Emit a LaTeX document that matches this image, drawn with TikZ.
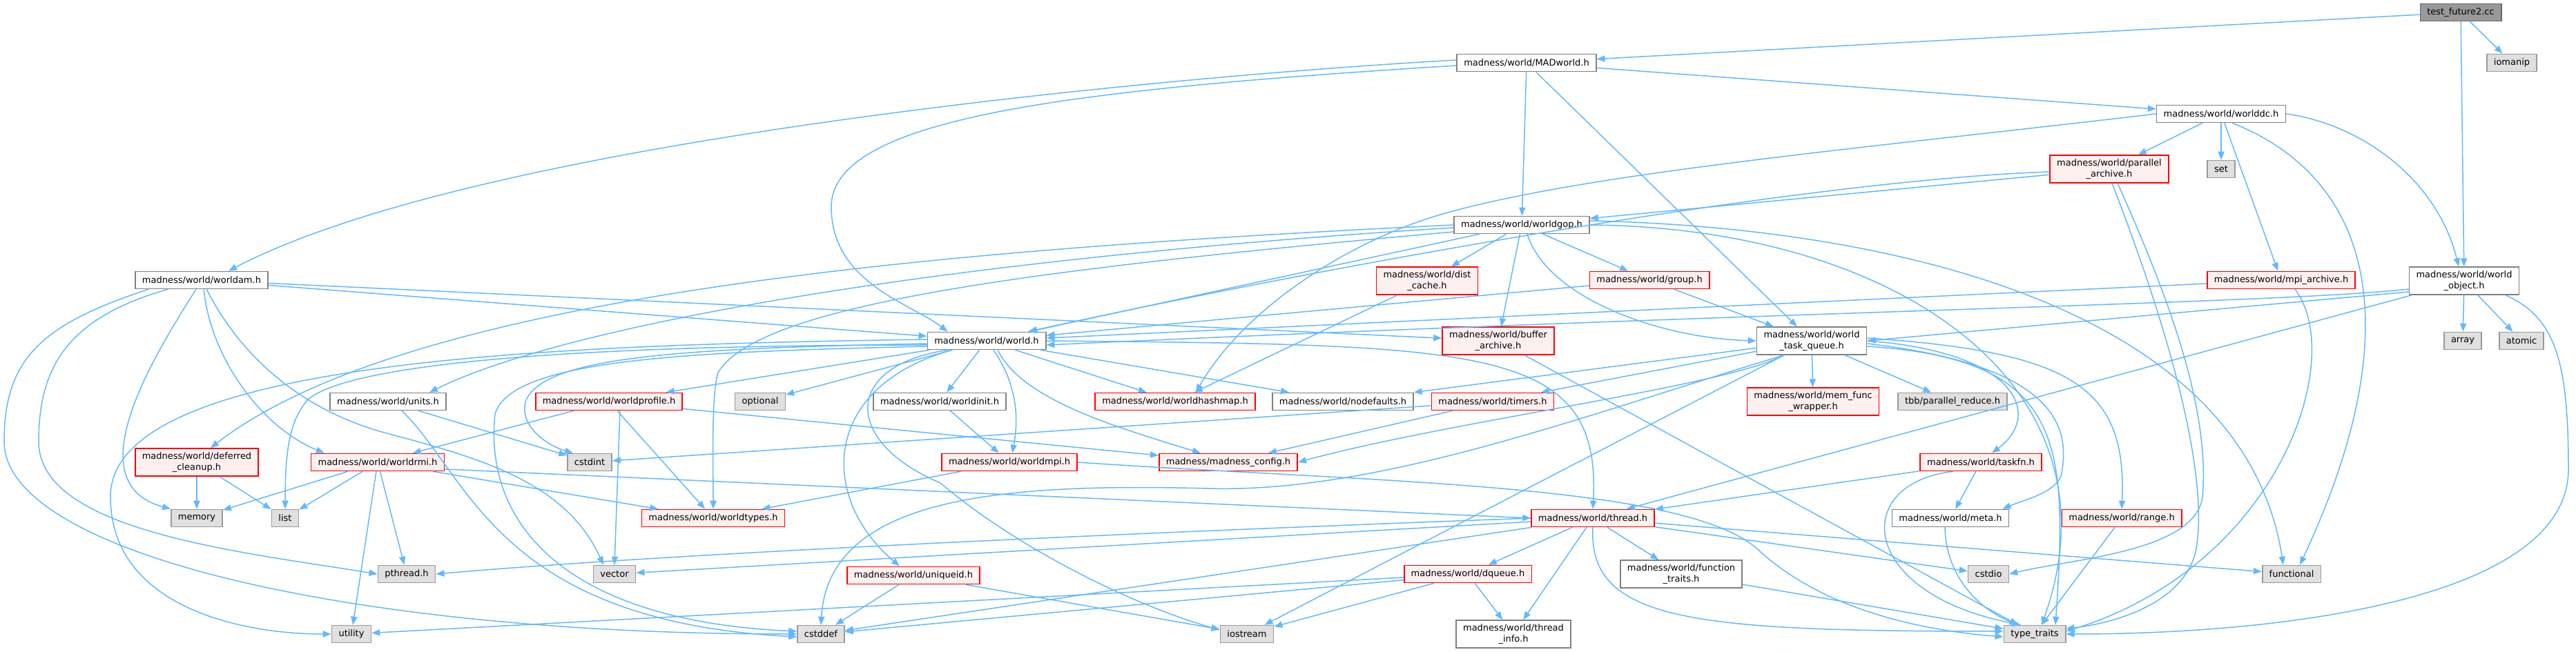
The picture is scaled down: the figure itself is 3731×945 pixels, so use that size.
\documentclass[tikz,border=0pt]{standalone}
\usepackage{fontspec}
\setmainfont{DejaVu Sans}
\usepackage{tikz}
\usetikzlibrary{arrows.meta}
\definecolor{edgeblue}{RGB}{99,184,255}
\definecolor{rootfill}{RGB}{153,153,153}
\definecolor{rootline}{RGB}{102,102,102}
\definecolor{sysfill}{RGB}{224,224,224}
\definecolor{sysline}{RGB}{153,153,153}
\definecolor{trunfill}{RGB}{255,240,240}
\definecolor{trunline}{RGB}{255,0,0}
\definecolor{plainline}{RGB}{128,128,128}

\begin{document}
\begin{tikzpicture}[
    x=0.5pt, y=-0.5pt,
    every node/.style={font=\fontsize{6.5pt}{7.8pt}\selectfont, inner xsep=5pt, inner ysep=2.8pt,
        minimum height=12.5pt, line width=0.8pt, align=center},
    hdr/.style={draw=plainline, fill=white},
    sys/.style={draw=sysline, fill=sysfill},
    trunc/.style={draw=trunline, fill=trunfill},
    root/.style={draw=rootline, fill=rootfill},
    dep/.style={draw=edgeblue, line width=0.75pt, -{Triangle[length=6pt,width=4.6pt]}}
]
\useasboundingbox (0,0) rectangle (3731,945);

% Top rows
\node[root] (testcc) at (3564,18) {test\_future2.cc};
\node[sys] (iomanip) at (3638,91) {iomanip};
\node[hdr] (madworld) at (2211,91) {madness/world/MADworld.h};
\node[hdr] (worlddc) at (3217,165) {madness/world/worlddc.h};
\node[hdr] (worldgop) at (2204,326) {madness/world/worldgop.h};
\node[trunc] (pararchive) at (3055,245) {madness/world/parallel\\\_archive.h};
\node[sys] (setlib) at (3217,245) {set};
\node[hdr] (worldam) at (292,406) {madness/world/worldam.h};
\node[trunc] (distcache) at (2067,407) {madness/world/dist\\\_cache.h};
\node[trunc] (grouph) at (2389,406) {madness/world/group.h};
\node[trunc] (mpiarchive) at (3304,406) {madness/world/mpi\_archive.h};
\node[hdr] (worldobj) at (3569,407) {madness/world/world\\\_object.h};

% World row
\node[hdr] (worldh) at (1429,494) {madness/world/world.h};
\node[trunc] (bufarchive) at (2170,494) {madness/world/buffer\\\_archive.h};
\node[hdr] (taskqueue) at (2624,494) {madness/world/world\\\_task\_queue.h};
\node[sys] (arraylib) at (3567,494) {array};
\node[sys] (atomiclib) at (3652,494) {atomic};

\node[hdr] (units) at (562,582) {madness/world/units.h};
\node[trunc] (profile) at (882,582) {madness/world/worldprofile.h};
\node[sys] (optionallib) at (1101,582) {optional};
\node[hdr] (worldinit) at (1361,582) {madness/world/worldinit.h};
\node[trunc] (hashmap) at (1702,582) {madness/world/worldhashmap.h};
\node[hdr] (nodefaults) at (1945,582) {madness/world/nodefaults.h};
\node[trunc] (timers) at (2162,582) {madness/world/timers.h};
\node[trunc] (memfunc) at (2626,582) {madness/world/mem\_func\\\_wrapper.h};
\node[sys] (tbbreduce) at (2828,582) {tbb/parallel\_reduce.h};

\node[trunc] (cleanup) at (285,670) {madness/world/deferred\\\_cleanup.h};
\node[trunc] (worldrmi) at (547,670) {madness/world/worldrmi.h};
\node[sys] (cstdintlib) at (854,670) {cstdint};
\node[trunc] (worldmpi) at (1462,670) {madness/world/worldmpi.h};
\node[trunc] (config) at (1779,670) {madness/madness\_config.h};
\node[trunc] (taskfn) at (2869,670) {madness/world/taskfn.h};

\node[sys] (memorylib) at (285,751) {memory};
\node[sys] (listlib) at (413,751) {list};
\node[trunc] (worldtypes) at (1033,751) {madness/world/worldtypes.h};
\node[trunc] (threadh) at (2307,751) {madness/world/thread.h};
\node[hdr] (metah) at (2825,751) {madness/world/meta.h};
\node[trunc] (rangeh) at (3073,751) {madness/world/range.h};

\node[sys] (pthreadlib) at (589,832) {pthread.h};
\node[sys] (vectorlib) at (890,832) {vector};
\node[trunc] (uniqueid) at (1323,834) {madness/world/uniqueid.h};
\node[trunc] (dqueue) at (2126,832) {madness/world/dqueue.h};
\node[hdr] (functraits) at (2435,832) {madness/world/function\\\_traits.h};
\node[sys] (cstdiolib) at (2880,832) {cstdio};
\node[sys] (functionallib) at (3319,832) {functional};

\node[sys] (utilitylib) at (509,919) {utility};
\node[sys] (cstddeflib) at (1189,919) {cstddef};
\node[sys] (iostreamlib) at (1806,919) {iostream};
\node[hdr] (threadinfo) at (2192,919) {madness/world/thread\\\_info.h};
\node[sys] (typetraits) at (2947,919) {type\_traits};

% Straight includes
\foreach \from/\to in {testcc/madworld, testcc/iomanip, testcc/worldobj,
    madworld/worldgop, madworld/worlddc, madworld/taskqueue,
    worlddc/pararchive, worlddc/setlib, worlddc/mpiarchive,
    worldam/worldh, worldam/bufarchive,
    worldgop/worldh, worldgop/distcache, worldgop/grouph, worldgop/bufarchive,
    pararchive/worldgop, distcache/hashmap, grouph/worldh, grouph/taskqueue,
    mpiarchive/worldh, worldobj/threadh, worldobj/arraylib, worldobj/atomiclib,
    worldh/worldinit, worldh/hashmap, worldh/nodefaults, worldh/profile, worldh/optionallib,
    bufarchive/typetraits, taskqueue/memfunc, taskqueue/tbbreduce, taskqueue/nodefaults,
    taskqueue/timers, taskqueue/iostreamlib, units/cstdintlib,
    profile/worldrmi, profile/worldtypes, profile/config, worldinit/worldmpi,
    timers/cstdintlib, timers/config, cleanup/memorylib, cleanup/listlib,
    worldrmi/memorylib, worldrmi/listlib, worldrmi/utilitylib, worldrmi/pthreadlib, worldrmi/worldtypes,
    worldmpi/worldtypes, taskfn/threadh, taskfn/metah,
    threadh/vectorlib, threadh/cstddeflib, threadh/dqueue, threadh/threadinfo, threadh/functraits,
    threadh/cstdiolib, threadh/functionallib, rangeh/typetraits, functraits/typetraits,
    uniqueid/cstddeflib, uniqueid/iostreamlib,
    dqueue/cstddeflib, dqueue/utilitylib, dqueue/iostreamlib, dqueue/threadinfo}
  \draw[dep] (\from) -- (\to);

% Curved includes
\draw[dep] ([yshift=2pt]madworld.west) .. controls (1700,110) and (700,200) .. ([xshift=19.5pt]worldam.north);
\draw[dep] ([yshift=-2pt]madworld.west) .. controls (1550,130) and (1204,170) .. (1204,300)
    .. controls (1204,410) and (1320,440) .. ([xshift=15pt]worldh.north west);
\draw[dep] ([xshift=10pt]worldam.south west) .. controls (60,470) and (6,520) .. (6,640)
    .. controls (6,800) and (500,919) .. (cstddeflib.west);
\draw[dep] ([xshift=24pt]worldam.south west) .. controls (100,460) and (56,530) .. (56,640)
    .. controls (56,770) and (350,800) .. (pthreadlib.west);
\draw[dep] ([xshift=52pt]worldam.south west) .. controls (340,500) and (420,590) .. (560,628)
    .. controls (700,665) and (820,700) .. ([xshift=-8pt]vectorlib.north);
\draw[dep] ([xshift=50pt]worldam.south west) .. controls (305,520) and (380,620) .. ([xshift=10pt]worldrmi.north west);
\draw[dep] ([xshift=-4pt]worldam.south) .. controls (220,520) and (110,700) .. (memorylib.north west);

\draw[dep] (worlddc.east) .. controls (3420,180) and (3530,260) .. ([xshift=-4pt]worldobj.north);
\draw[dep] ([xshift=8pt]worlddc.south) .. controls (3440,260) and (3490,480) .. ([xshift=6pt]functionallib.north);
\draw[dep] (worlddc.west) .. controls (2700,215) and (2300,250) .. (2090,310)
    .. controls (1950,350) and (1800,450) .. ([xshift=15pt]hashmap.north);

\draw[dep] ([xshift=4pt]worldgop.south) .. controls (2240,430) and (2400,490) .. (taskqueue.west);
\draw[dep] (worldgop.west) .. controls (1400,360) and (600,420) .. ([xshift=10pt]cleanup.north);
\draw[dep] ([yshift=-2pt]worldgop.west) .. controls (1300,380) and (800,480) .. ([xshift=30pt]units.north);
\draw[dep] ([yshift=-5pt]worldgop.west) .. controls (1500,390) and (1100,440) .. (1040,540)
    .. controls (1030,570) and (1033,680) .. (worldtypes.north);
\draw[dep] ([yshift=3pt]worldgop.east) .. controls (2750,330) and (3250,450) .. ([xshift=-6pt]functionallib.north);
\draw[dep] (worldgop.east) .. controls (2750,330) and (3080,560) .. ([xshift=5pt]typetraits.north);

\draw[dep] ([yshift=-2pt]pararchive.west) .. controls (2600,262) and (1900,390) .. ([xshift=30pt]worldh.north);
\draw[dep] ([xshift=6pt]pararchive.south) .. controls (3150,450) and (3200,600) .. (3190,720)
    .. controls (3180,800) and (3000,810) .. (cstdiolib.east);
\draw[dep] ([xshift=2pt]pararchive.south) .. controls (3150,500) and (3200,700) .. (3180,800)
    .. controls (3160,880) and (3050,905) .. ([yshift=4pt]typetraits.east);
\draw[dep] ([xshift=10pt]mpiarchive.south) .. controls (3400,520) and (3300,820) .. ([yshift=2pt]typetraits.east);

\draw[dep] ([yshift=-6pt]worldobj.west) .. controls (3300,440) and (2600,450) .. ([yshift=-3pt]worldh.east);
\draw[dep] ([yshift=-8pt]worldobj.west) -- (taskqueue.east);
\draw[dep] ([xshift=30pt]worldobj.south) .. controls (3700,460) and (3720,520) .. (3720,680)
    .. controls (3720,870) and (3300,919) .. (typetraits.east);

\draw[dep] ([yshift=-3pt]worldh.west) .. controls (800,500) and (500,530) .. (445,580)
    .. controls (420,610) and (413,650) .. (listlib.north);
\draw[dep] ([yshift=1pt]worldh.west) .. controls (800,500) and (160,520) .. (160,720)
    .. controls (160,880) and (350,919) .. (utilitylib.west);
\draw[dep] ([yshift=-4pt]worldh.west) .. controls (1000,510) and (740,520) .. (717,600)
    .. controls (700,760) and (820,900) .. ([yshift=2pt]cstddeflib.west);
\draw[dep] ([yshift=-2pt]worldh.west) .. controls (1000,505) and (790,515) .. (762,580)
    .. controls (750,615) and (790,645) .. ([xshift=-12pt]cstdintlib.north);
\draw[dep] ([xshift=-25pt]worldh.south) .. controls (1190,560) and (1185,720) .. ([xshift=-10pt]uniqueid.north);
\draw[dep] ([xshift=-28pt]worldh.south) .. controls (1220,530) and (1220,640) .. (1362,700)
    .. controls (1480,800) and (1650,880) .. ([yshift=3pt]iostreamlib.west);
\draw[dep] (worldh.east) .. controls (2150,500) and (2320,500) .. (threadh.north);
\draw[dep] ([xshift=5pt]worldh.south) .. controls (1475,560) and (1475,610) .. ([xshift=2pt]worldmpi.north);
\draw[dep] ([xshift=8pt]worldh.south) .. controls (1480,580) and (1620,620) .. ([xshift=-20pt]config.north);

\draw[dep] (taskqueue.east) .. controls (2920,510) and (2960,600) .. ([xshift=8pt]taskfn.north);
\draw[dep] ([yshift=-2pt]taskqueue.east) .. controls (2980,530) and (3000,620) .. (2985,690)
    .. controls (2975,715) and (2930,725) .. ([xshift=-5pt]metah.north east);
\draw[dep] ([yshift=2pt]taskqueue.east) .. controls (3000,510) and (3081,560) .. (rangeh.north);
\draw[dep] ([yshift=-4pt]taskqueue.east) .. controls (2990,520) and (2995,640) .. ([xshift=15pt]typetraits.north);
\draw[dep] ([xshift=-20pt]taskqueue.south) .. controls (2500,560) and (2100,610) .. (config.east);
\draw[dep] ([xshift=-20pt]taskqueue.south) .. controls (2300,600) and (2000,715) .. (1750,708)
    .. controls (1450,700) and (1200,720) .. (cstddeflib.north);

\draw[dep] ([xshift=10pt]units.south) .. controls (680,690) and (720,900) .. ([yshift=-2pt]cstddeflib.west);
\draw[dep] ([xshift=8pt]profile.south) -- (vectorlib.north);
\draw[dep] ([yshift=-5pt]worldrmi.east) -- (threadh.west);
\draw[dep] (worldmpi.east) .. controls (2000,700) and (2450,700) .. (2550,800)
    .. controls (2650,890) and (2800,915) .. ([yshift=-2pt]typetraits.west);
\draw[dep] ([xshift=-20pt]taskfn.south) .. controls (2680,700) and (2690,860) .. ([xshift=-10pt]typetraits.north);
\draw[dep] ([xshift=-4pt]metah.south) .. controls (2818,830) and (2860,880) .. ([xshift=-12pt]typetraits.north);
\draw[dep] (threadh.west) .. controls (1700,770) and (1000,800) .. (pthreadlib.east);
\draw[dep] (threadh.south) .. controls (2300,900) and (2450,915) .. ([yshift=2pt]typetraits.west);

\end{tikzpicture}
\end{document}
